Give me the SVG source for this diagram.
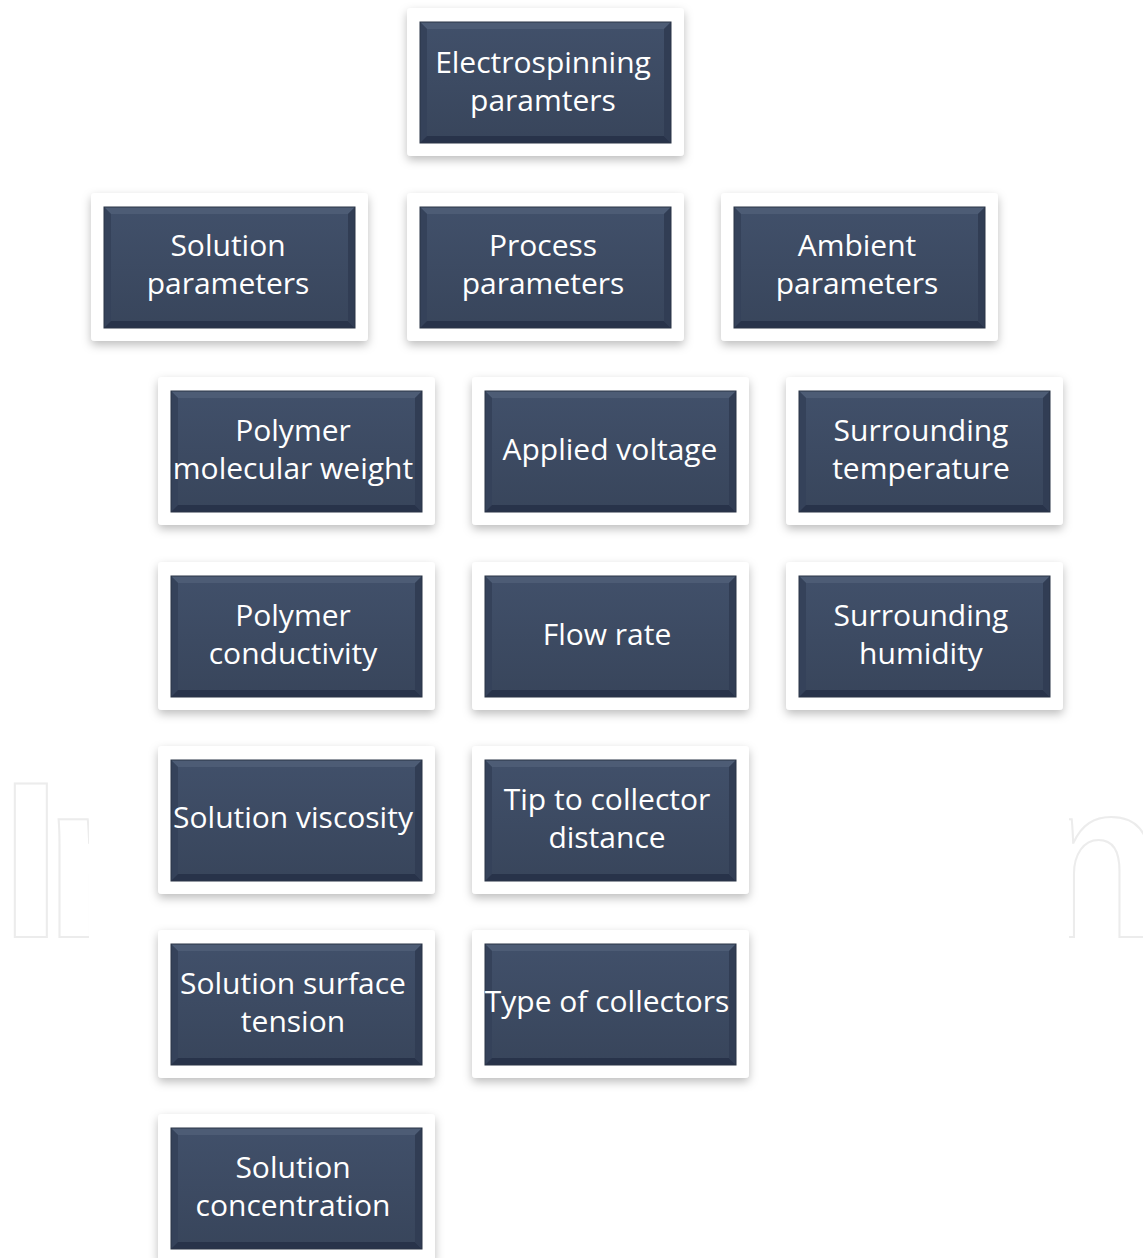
<svg xmlns="http://www.w3.org/2000/svg" xmlns:xlink="http://www.w3.org/1999/xlink" width="1143" height="1258" viewBox="0 0 1143 1258">
<defs>
<style>
.lbl{font-family:"Open Sans","Noto Sans","Liberation Sans",sans-serif;font-size:30px;fill:#ffffff;text-anchor:middle}
.wm{font-family:"Liberation Sans",Arial,sans-serif;font-weight:bold;font-size:222px;fill:none;stroke:#ececec;stroke-width:2}
</style>
<filter id="sh" x="-20%" y="-20%" width="140%" height="150%">
<feDropShadow dx="0" dy="4" stdDeviation="5" flood-color="#000" flood-opacity="0.26"/>
</filter>
<linearGradient id="face" x1="0" y1="0" x2="0" y2="1">
<stop offset="0" stop-color="#41506a"/>
<stop offset="1" stop-color="#38455b"/>
</linearGradient>
<g id="box">
<rect x="-13" y="-14" width="277" height="148" rx="4" fill="#ffffff" filter="url(#sh)"/>
<rect x="0" y="0" width="251" height="121" fill="url(#face)"/>
<polygon points="0,0 251,0 244,7 7,7" fill="#4d5c75"/>
<polygon points="0,0 7,7 7,114 0,121" fill="#35425a"/>
<polygon points="0,121 7,114 244,114 251,121" fill="#28334a"/>
<polygon points="251,0 251,121 244,114 244,7" fill="#313d54"/>
<rect x="0" y="0" width="251" height="121" fill="none" stroke="#2a3446" stroke-width="1"/>
</g>
<clipPath id="clL"><rect x="0" y="700" width="89" height="300"/></clipPath>
<clipPath id="clR"><rect x="1069" y="700" width="80" height="300"/></clipPath>
</defs>
<rect width="1143" height="1258" fill="#ffffff"/>
<g id="watermark">
<text class="wm" y="937" clip-path="url(#clL)"><tspan x="0">I</tspan><tspan x="44">n</tspan></text>
<text class="wm" x="1028" y="937" clip-path="url(#clR)">n</text>
</g>
<g id="connectors"></g>
<g id="n-electrospinning" transform="translate(420,22)"><use xlink:href="#box"/><text class="lbl" x="123" y="51">Electrospinning</text><text class="lbl" x="123" y="89">paramters</text></g>
<g id="n-solution" transform="translate(104,207)"><use xlink:href="#box"/><text class="lbl" x="124" y="49">Solution</text><text class="lbl" x="124" y="87">parameters</text></g>
<g id="n-process" transform="translate(420,207)"><use xlink:href="#box"/><text class="lbl" x="123" y="49">Process</text><text class="lbl" x="123" y="87">parameters</text></g>
<g id="n-ambient" transform="translate(734,207)"><use xlink:href="#box"/><text class="lbl" x="123" y="49">Ambient</text><text class="lbl" x="123" y="87">parameters</text></g>
<g id="n-mw" transform="translate(171,391)"><use xlink:href="#box"/><text class="lbl" x="122" y="50">Polymer</text><text class="lbl" x="122" y="88">molecular weight</text></g>
<g id="n-voltage" transform="translate(485,391)"><use xlink:href="#box"/><text class="lbl" x="125" y="69">Applied voltage</text></g>
<g id="n-temp" transform="translate(799,391)"><use xlink:href="#box"/><text class="lbl" x="122" y="50">Surrounding</text><text class="lbl" x="122" y="88">temperature</text></g>
<g id="n-cond" transform="translate(171,576)"><use xlink:href="#box"/><text class="lbl" x="122" y="50">Polymer</text><text class="lbl" x="122" y="88">conductivity</text></g>
<g id="n-flow" transform="translate(485,576)"><use xlink:href="#box"/><text class="lbl" x="122" y="69">Flow rate</text></g>
<g id="n-humid" transform="translate(799,576)"><use xlink:href="#box"/><text class="lbl" x="122" y="50">Surrounding</text><text class="lbl" x="122" y="88">humidity</text></g>
<g id="n-visc" transform="translate(171,760)"><use xlink:href="#box"/><text class="lbl" x="122" y="68">Solution viscosity</text></g>
<g id="n-dist" transform="translate(485,760)"><use xlink:href="#box"/><text class="lbl" x="122" y="50">Tip to collector</text><text class="lbl" x="122" y="88">distance</text></g>
<g id="n-tension" transform="translate(171,944)"><use xlink:href="#box"/><text class="lbl" x="122" y="50">Solution surface</text><text class="lbl" x="122" y="88">tension</text></g>
<g id="n-coll" transform="translate(485,944)"><use xlink:href="#box"/><text class="lbl" x="122" y="68">Type of collectors</text></g>
<g id="n-conc" transform="translate(171,1128)"><use xlink:href="#box"/><text class="lbl" x="122" y="50">Solution</text><text class="lbl" x="122" y="88">concentration</text></g>
</svg>
